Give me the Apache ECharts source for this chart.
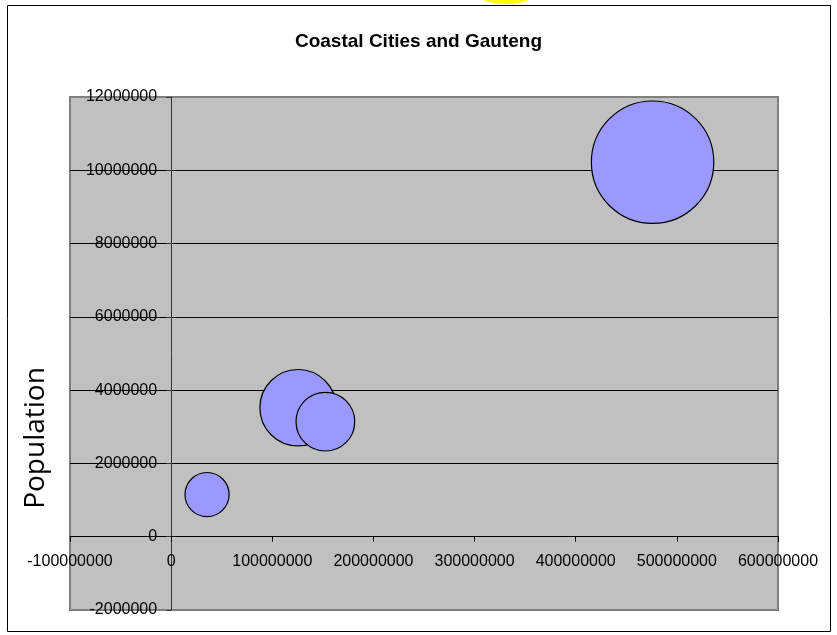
<!DOCTYPE html>
<html>
<head>
<meta charset="utf-8">
<script src="https://cdn.jsdelivr.net/npm/echarts@6/dist/echarts.min.js"></script>
<style>
  html, body { margin: 0; padding: 0; background: #fff; }
  #main { width: 837px; height: 635px; }
</style>
</head>
<body>
<div id="main"></div>
<script>
// data
const xValues = [35500000, 125500000, 152500000, 476000000];
const population = [1150000, 3520000, 3140000, 10220000];
const bubbleSizes = [13, 39, 23, 100];
const xTicks = [-100000000, 0, 100000000, 200000000, 300000000, 400000000, 500000000, 600000000];
const yTicks = [-2000000, 0, 2000000, 4000000, 6000000, 8000000, 10000000, 12000000];

const maxSize = Math.max(...bubbleSizes);
const points = xValues.map((x, i) => [x, population[i], bubbleSizes[i]]);

// plot area in pixels
const plot = { left: 70, top: 97, width: 708, height: 513 };
const xMin = xTicks[0], xMax = xTicks[xTicks.length - 1];
const yMin = yTicks[0], yMax = yTicks[yTicks.length - 1];
// axes cross at zero, like the Excel chart
const yAxisOffset = -plot.width * (0 - xMin) / (xMax - xMin);
const xAxisOffset = -plot.height * (0 - yMin) / (yMax - yMin);

const myChart = echarts.init(document.getElementById('main'));

const option = {
  backgroundColor: '#fff',
  animation: false,
  title: {
    text: 'Coastal Cities and Gauteng',
    left: 'center',
    top: 27,
    textStyle: {
      fontFamily: 'Liberation Sans',
      fontWeight: 'bold',
      fontSize: 19,
      color: '#000'
    }
  },
  graphic: [
    { // yellow shape peeking in at the top
      type: 'ellipse',
      shape: { cx: 506, cy: -22, rx: 43, ry: 26 },
      style: { fill: '#ffff00' },
      z: -10
    },
    { // chart frame
      type: 'rect',
      shape: { x: 7.5, y: 5.5, width: 823, height: 626 },
      style: { fill: 'none', stroke: '#000', lineWidth: 1 },
      z: -5
    },
    {
      type: 'text',
      x: 36,
      y: 438,
      rotation: Math.PI / 2,
      style: {
        text: 'Population',
        font: '28px "Open Sans"',
        fill: '#000',
        align: 'center',
        verticalAlign: 'middle'
      }
    }
  ],
  grid: {
    left: plot.left,
    top: plot.top,
    width: plot.width,
    height: plot.height,
    outerBoundsMode: 'none',
    containLabel: false,
    show: true,
    backgroundColor: '#c0c0c0',
    borderColor: '#808080',
    borderWidth: 2
  },
  xAxis: {
    type: 'value',
    min: xMin,
    max: xMax,
    interval: xTicks[1] - xTicks[0],
    offset: xAxisOffset,
    axisLine: { onZero: false, lineStyle: { color: '#000', width: 1 } },
    axisTick: { show: true, length: 5, lineStyle: { color: '#000' } },
    axisLabel: {
      margin: 17,
      fontFamily: 'Liberation Sans',
      fontSize: 16,
      color: '#000',
      showMinLabel: true,
      showMaxLabel: true,
      hideOverlap: false,
      formatter: v => String(v)
    },
    splitLine: { show: false }
  },
  yAxis: {
    type: 'value',
    min: yMin,
    max: yMax,
    interval: yTicks[1] - yTicks[0],
    offset: yAxisOffset,
    axisLine: { onZero: false, lineStyle: { color: '#333', width: 1 } },
    axisTick: { show: true, length: 5, lineStyle: { color: '#333' } },
    axisLabel: {
      margin: 14,
      fontFamily: 'Liberation Sans',
      fontSize: 16,
      color: '#000',
      showMinLabel: true,
      showMaxLabel: true,
      hideOverlap: false,
      formatter: v => String(v)
    },
    splitLine: {
      show: true,
      showMinLine: false,
      showMaxLine: false,
      lineStyle: { color: '#000', width: 1 }
    }
  },
  series: [{
    type: 'scatter',
    data: points,
    symbolSize: function (d) {
      return 122.4 * Math.sqrt(d[2] / maxSize);
    },
    itemStyle: {
      color: '#9999ff',
      opacity: 1,
      borderColor: '#000',
      borderWidth: 1.2
    },
    z: 3
  }]
};

myChart.setOption(option);
</script>
</body>
</html>
